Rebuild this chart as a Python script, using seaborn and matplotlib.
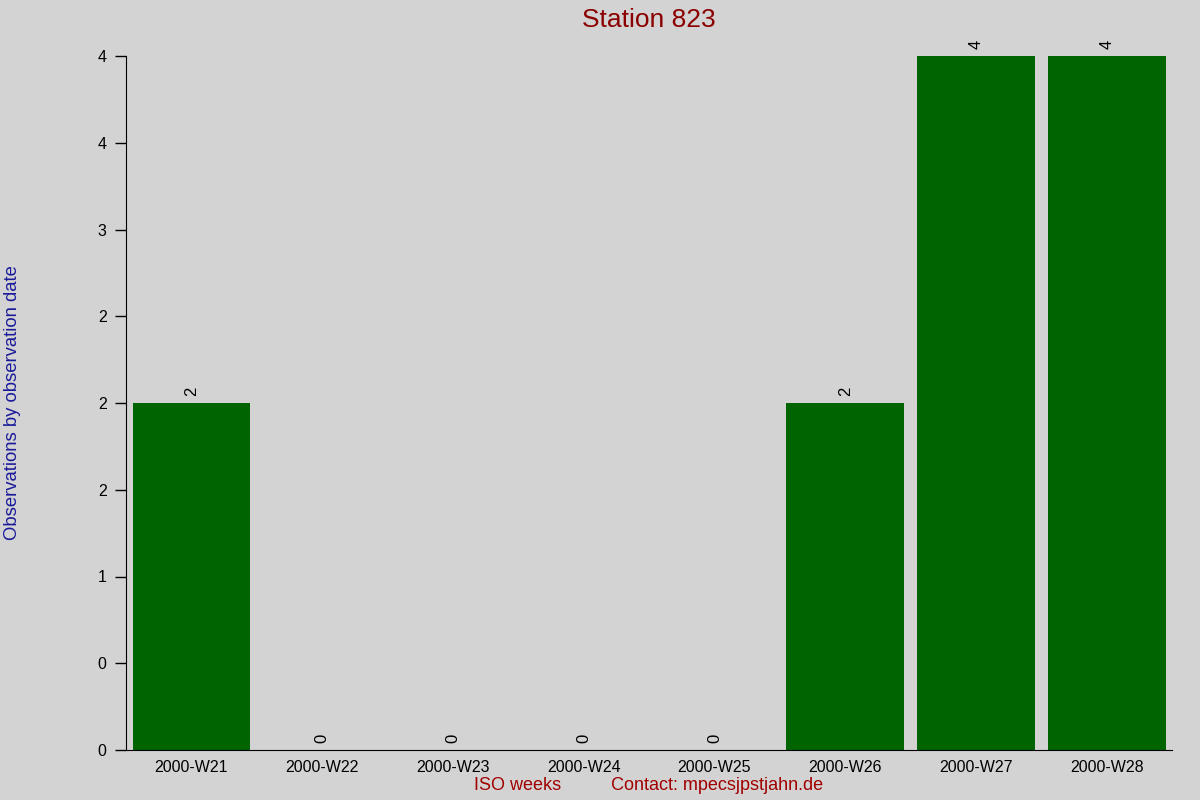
import seaborn as sns
import pandas as pd
import numpy as np
from matplotlib import pyplot as plt
import matplotlib.ticker as mtick

weeks = ['2000-W21', '2000-W22', '2000-W23', '2000-W24',
         '2000-W25', '2000-W26', '2000-W27', '2000-W28']
counts = [2, 0, 0, 0, 0, 2, 4, 4]

sns.set_style('white')
plt.rcParams['font.family'] = ['Liberation Sans', 'DejaVu Sans']

bg = '#d3d3d3'
fig = plt.figure(figsize=(12, 8), dpi=100, facecolor=bg)
ax = fig.add_axes([0.105, 0.0625, 0.8717, 0.8675], facecolor=bg)

df = pd.DataFrame({'week': weeks, 'n': counts})
sns.barplot(data=df, x='week', y='n', color='#006400', saturation=1,
            width=0.9, linewidth=0, edgecolor='none', ax=ax)

for c in ax.containers:
    ax.bar_label(c, fmt='%d', rotation=90, padding=5, fontsize=12,
                 color='black', annotation_clip=False)

ax.set_xlim(-0.5, len(weeks) - 0.5)
ax.set_ylim(0, 4)
ax.yaxis.set_major_locator(mtick.MultipleLocator(0.5))
ax.yaxis.set_major_formatter(mtick.FormatStrFormatter('%.0f'))

ax.spines['top'].set_visible(False)
ax.spines['right'].set_visible(False)
ax.spines['left'].set_color('black')
ax.spines['bottom'].set_color('black')
ax.tick_params(axis='y', length=8, width=1, direction='out', pad=6,
               labelsize=11.5, colors='black', left=True)
ax.tick_params(axis='x', length=0, pad=7, labelsize=11.5, colors='black')

ax.set_title('Station 823', color='#8b0000', fontsize=19, pad=21)
ax.set_xlabel('ISO weeks          Contact: mpecsjpstjahn.de',
              color='#a00000', fontsize=13, labelpad=2)
ax.set_ylabel('Observations by observation date', color='#1a1a9a',
              fontsize=13.3, labelpad=0)
ax.yaxis.set_label_coords(-0.1, 0.5)

fig.savefig('out.png', dpi=100, facecolor=bg)
